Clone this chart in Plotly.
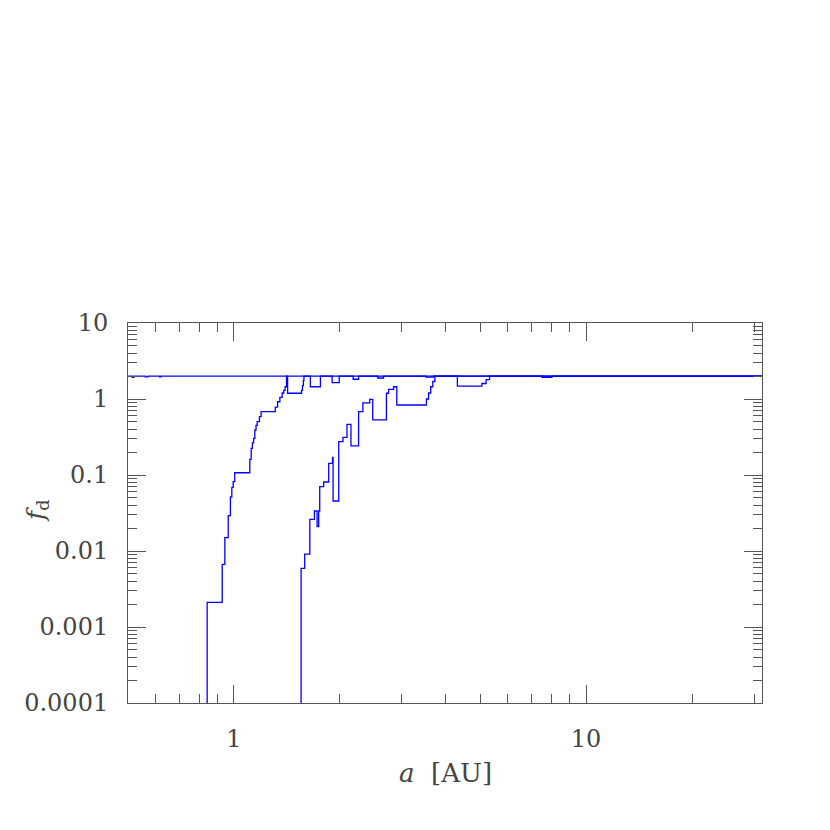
import math
import plotly.graph_objects as go

# ---- data (step curves: value holds from each x edge to the next) ----
# curve A (inner)
a_x = [0.5, 0.839, 0.926, 0.942, 0.963, 0.977, 0.986, 0.995, 1.005, 1.109, 1.119,
       1.128, 1.137, 1.146, 1.155, 1.164, 1.181, 1.194, 1.31, 1.33, 1.35, 1.37,
       1.385, 1.397, 1.41, 1.42, 1.555, 1.565, 1.574, 1.58, 1.648, 1.76, 1.90,
       1.99, 2.18, 2.26, 2.56, 2.66, 7.5, 8.0, 31.6]
a_y = [1e-6, 0.00211, 0.00668, 0.0150, 0.0292, 0.0514, 0.0689, 0.0817, 0.107, 0.161,
       0.224, 0.265, 0.303, 0.391, 0.45, 0.504, 0.586, 0.681, 0.78, 0.92, 1.05, 1.2,
       1.3, 1.45, 2.0, 1.19, 1.3, 1.5, 1.75, 2.0, 1.45, 2.0, 1.64, 2.0, 1.82, 2.0,
       1.89, 2.0, 1.93, 2.0, 2.0]

# curve B (outer)
b_x = [0.5, 1.551, 1.588, 1.642, 1.692, 1.722, 1.740, 1.752, 1.798, 1.858, 1.905,
       1.912, 1.984, 2.04, 2.094, 2.149, 2.259, 2.323, 2.43, 2.478, 2.71, 2.748,
       2.84, 2.90, 3.52, 3.57, 3.62, 3.67, 3.72, 4.31, 5.06, 5.2, 5.32, 31.6]
b_y = [1e-6, 0.00592, 0.00912, 0.0261, 0.0336, 0.0209, 0.0336, 0.0702, 0.0809,
       0.1425, 0.171, 0.0455, 0.275, 0.313, 0.464, 0.241, 0.681, 0.89, 0.99, 0.53,
       1.19, 1.34, 1.45, 0.834, 1.0, 1.2, 1.45, 1.7, 2.0, 1.48, 1.6, 1.8, 2.0, 2.0]

# curve C (near constant)
c_x = [0.5, 0.514, 0.52, 0.56, 0.57, 0.615, 0.62, 3.51, 3.69, 31.6]
c_y = [2.0, 1.93, 2.0, 1.95, 2.0, 1.96, 2.0, 1.94, 2.0, 2.0]

x_major = [1, 10]
x_major_text = ["1", "10"]
x_minor = [0.6, 0.7, 0.8, 0.9, 2, 3, 4, 5, 6, 7, 8, 9, 20, 30]
y_major = [1e-4, 1e-3, 1e-2, 1e-1, 1, 10]
y_major_text = ["0.0001", "0.001", "0.01", "0.1", "1", "10"]
y_minor = [m * 10.0 ** e for e in range(-4, 1) for m in range(2, 10)]

x_range = [0.5, 31.6]
y_range = [1e-4, 10]

# ---- figure ----
BLUE = "#0000ff"
AX = "#555555"
FONT = "DejaVu Serif"

fig = go.Figure()
for xs, ys in ((c_x, c_y), (a_x, a_y), (b_x, b_y)):
    fig.add_trace(go.Scatter(x=xs, y=ys, mode="lines", line_shape="hv",
                             line=dict(color=BLUE, width=1.3), showlegend=False,
                             hoverinfo="skip"))

axis_common = dict(
    type="log", showgrid=False, zeroline=False, showline=True, linecolor=AX,
    linewidth=1, mirror="allticks", ticks="inside", ticklen=18, tickwidth=1,
    tickcolor=AX, tickfont=dict(family=FONT, size=24, color="#444444"),
)

fig.update_xaxes(
    **axis_common,
    range=[math.log10(x_range[0]), math.log10(x_range[1])],
    tickmode="array", tickvals=x_major, ticktext=x_major_text,
    ticklabelstandoff=14,
    minor=dict(tickmode="array", tickvals=x_minor, ticks="inside", ticklen=9,
               tickwidth=1, tickcolor=AX, showgrid=False),
)
fig.update_yaxes(
    **axis_common,
    range=[math.log10(y_range[0]), math.log10(y_range[1])],
    tickmode="array", tickvals=y_major, ticktext=y_major_text,
    ticklabelstandoff=14,
    minor=dict(tickmode="array", tickvals=y_minor, ticks="inside", ticklen=9,
               tickwidth=1, tickcolor=AX, showgrid=False),
)

fig.add_annotation(text="<i>a</i>\u00a0\u00a0[AU]", xref="paper", yref="paper",
                   x=0.5, y=-0.184, xanchor="center", yanchor="middle",
                   showarrow=False, font=dict(family=FONT, size=26, color="#444444"))
fig.add_annotation(text="<i>f</i><sub>d</sub>", xref="paper", yref="paper",
                   x=-0.1435, y=0.505, xanchor="center", yanchor="middle",
                   textangle=-90, showarrow=False,
                   font=dict(family=FONT, size=25, color="#444444"))

fig.update_layout(
    width=830, height=830, autosize=False,
    margin=dict(l=120, r=76, t=315, b=135, autoexpand=False),
    paper_bgcolor="white", plot_bgcolor="white",
)

fig.write_html("out.html")
